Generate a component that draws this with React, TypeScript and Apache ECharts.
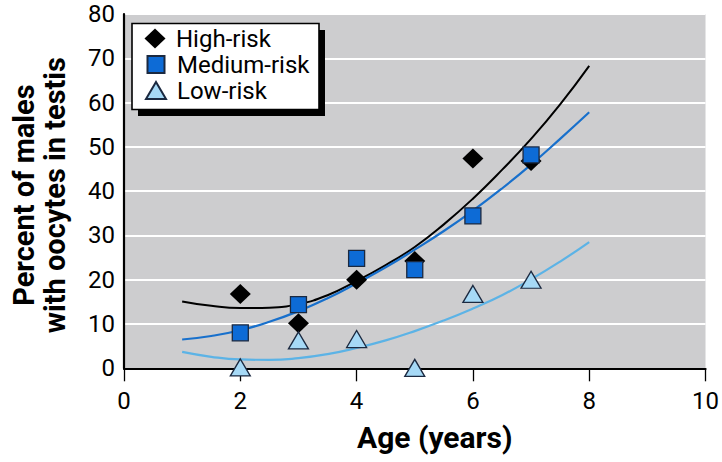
import React, { useEffect, useRef } from "react";
import * as echarts from "echarts";

const ages = [2, 3, 4, 5, 6, 7];
const highRisk = [16.8, 10.2, 20.0, 24.2, 47.4, 46.8];
const mediumRisk = [8.0, 14.4, 24.8, 22.3, 34.4, 48.2];
const lowRisk = [0.2, 6.3, 6.6, 0.1, 16.8, 20.0];

const fitX = [1, 1.5, 2, 2.5, 3, 3.5, 4, 4.5, 5, 5.5, 6, 6.5, 7, 7.5, 8];
const highFit = [15.1, 14.1, 13.6, 13.7, 14.5, 16.5, 19.7, 23.3, 27.4, 32.5, 38.3, 44.8, 51.8, 59.6, 68.3];
const mediumFit = [6.5, 7.3, 8.6, 10.5, 12.9, 15.8, 19.2, 22.8, 26.8, 31.0, 35.6, 40.6, 46.0, 51.8, 57.8];
const lowFit = [3.7, 2.6, 2.0, 1.9, 2.3, 3.2, 4.6, 6.3, 8.4, 10.8, 13.5, 16.5, 20.1, 24.1, 28.5];

const xTicks = [0, 2, 4, 6, 8, 10];
const yTicks = [0, 10, 20, 30, 40, 50, 60, 70, 80];

const FONT = "Roboto, 'Noto Sans', sans-serif";

const C_HIGH = "#000000";
const C_MED = "#0d6bd6";
const C_MED_LINE = "#1870cc";
const C_LOW = "#a6d9f6";
const C_LOW_LINE = "#5cb3e6";
const C_EDGE = "#1b2940";

export default function App() {
  const ref = useRef<HTMLDivElement>(null);
  useEffect(() => {
    if (!ref.current) return;
    const chart = echarts.init(ref.current, null, { renderer: "svg" });
    const pairs = (xs: number[], ys: number[]) => xs.map((x, i) => [x, ys[i]]);
    const legendText = (pad: number) => ({
      fontFamily: FONT,
      fontSize: 24,
      color: "#000",
      lineHeight: 24,
      padding: [0, 0, 0, pad],
    });
    chart.setOption({
      animation: false,
      backgroundColor: "#ffffff",
      textStyle: { fontFamily: FONT },
      grid: {
        left: 120,
        right: 14,
        top: 14,
        bottom: 93.7,
        show: true,
        backgroundColor: "#cdcdcf",
        borderWidth: 0,
      },
      xAxis: {
        type: "value",
        min: xTicks[0],
        max: xTicks[xTicks.length - 1],
        interval: 2,
        name: "Age (years)",
        nameLocation: "middle",
        nameGap: 54,
        nameTextStyle: {
          fontFamily: FONT,
          fontSize: 30,
          fontWeight: "bold",
          color: "#000",
          lineHeight: 30,
          padding: [0, 0, 0, 40],
        },
        axisLine: { show: true, lineStyle: { color: "#000", width: 2.2 } },
        axisTick: { show: true, inside: false, length: 13, lineStyle: { color: "#000", width: 1.3 } },
        axisLabel: { fontFamily: FONT, fontSize: 24, color: "#000", margin: 21 },
        splitLine: { show: false },
      },
      yAxis: {
        type: "value",
        min: yTicks[0],
        max: yTicks[yTicks.length - 1],
        interval: 10,
        name: "Percent of males\nwith oocytes in testis",
        nameLocation: "middle",
        nameGap: 54,
        nameTextStyle: {
          fontFamily: FONT,
          fontSize: 29,
          fontWeight: "bold",
          color: "#000",
          lineHeight: 31,
          padding: [0, 8, 0, 0],
        },
        axisLine: { show: true, lineStyle: { color: "#000", width: 2.2 } },
        axisTick: { show: false },
        axisLabel: { fontFamily: FONT, fontSize: 24, color: "#000", margin: 9 },
        splitLine: { show: true, lineStyle: { color: "#ffffff", width: 1.8 } },
      },
      legend: [
        {
          orient: "vertical",
          left: 144.5,
          top: 26.5,
          itemWidth: 21,
          itemHeight: 20,
          padding: 0,
          z: 60,
          data: ["High-risk"],
          textStyle: legendText(5.5),
        },
        {
          orient: "vertical",
          left: 146.5,
          top: 52.5,
          itemWidth: 17,
          itemHeight: 17,
          padding: 0,
          z: 60,
          data: ["Medium-risk"],
          textStyle: legendText(7.5),
        },
        {
          orient: "vertical",
          left: 145,
          top: 78.5,
          itemWidth: 20,
          itemHeight: 17,
          padding: 0,
          z: 60,
          data: ["Low-risk"],
          textStyle: legendText(6),
        },
      ],
      graphic: [
        { type: "rect", shape: { x: 138, y: 30, width: 187, height: 86 }, style: { fill: "#000" }, z: 50 },
        {
          type: "rect",
          shape: { x: 132, y: 23.5, width: 187, height: 86 },
          style: { fill: "#fff", stroke: "#000", lineWidth: 1.6 },
          z: 51,
        },
      ],
      series: [
        {
          name: "High-risk fit",
          type: "line",
          data: pairs(fitX, highFit),
          smooth: true,
          showSymbol: false,
          lineStyle: { color: C_HIGH, width: 2 },
          z: 2,
        },
        {
          name: "Medium-risk fit",
          type: "line",
          data: pairs(fitX, mediumFit),
          smooth: true,
          showSymbol: false,
          lineStyle: { color: C_MED_LINE, width: 2.2 },
          z: 2,
        },
        {
          name: "Low-risk fit",
          type: "line",
          data: pairs(fitX, lowFit),
          smooth: true,
          showSymbol: false,
          lineStyle: { color: C_LOW_LINE, width: 2.2 },
          z: 2,
        },
        {
          name: "High-risk",
          type: "scatter",
          symbol: "diamond",
          symbolSize: [21, 20],
          data: pairs(ages, highRisk),
          itemStyle: { color: C_HIGH, borderWidth: 0, opacity: 1 },
          z: 3,
        },
        {
          name: "Medium-risk",
          type: "scatter",
          symbol: "rect",
          symbolSize: 16,
          data: pairs(ages, mediumRisk),
          itemStyle: { color: C_MED, borderColor: C_EDGE, borderWidth: 1.3, opacity: 1 },
          z: 4,
        },
        {
          name: "Low-risk",
          type: "scatter",
          symbol: "triangle",
          symbolSize: [20, 17],
          data: pairs(ages, lowRisk),
          itemStyle: { color: C_LOW, borderColor: C_EDGE, borderWidth: 1.3, opacity: 1 },
          z: 5,
        },
      ],
    });
    return () => chart.dispose();
  }, []);
  return <div ref={ref} style={{ width: 722, height: 462, position: "absolute", left: 0, top: 0 }} />;
}
